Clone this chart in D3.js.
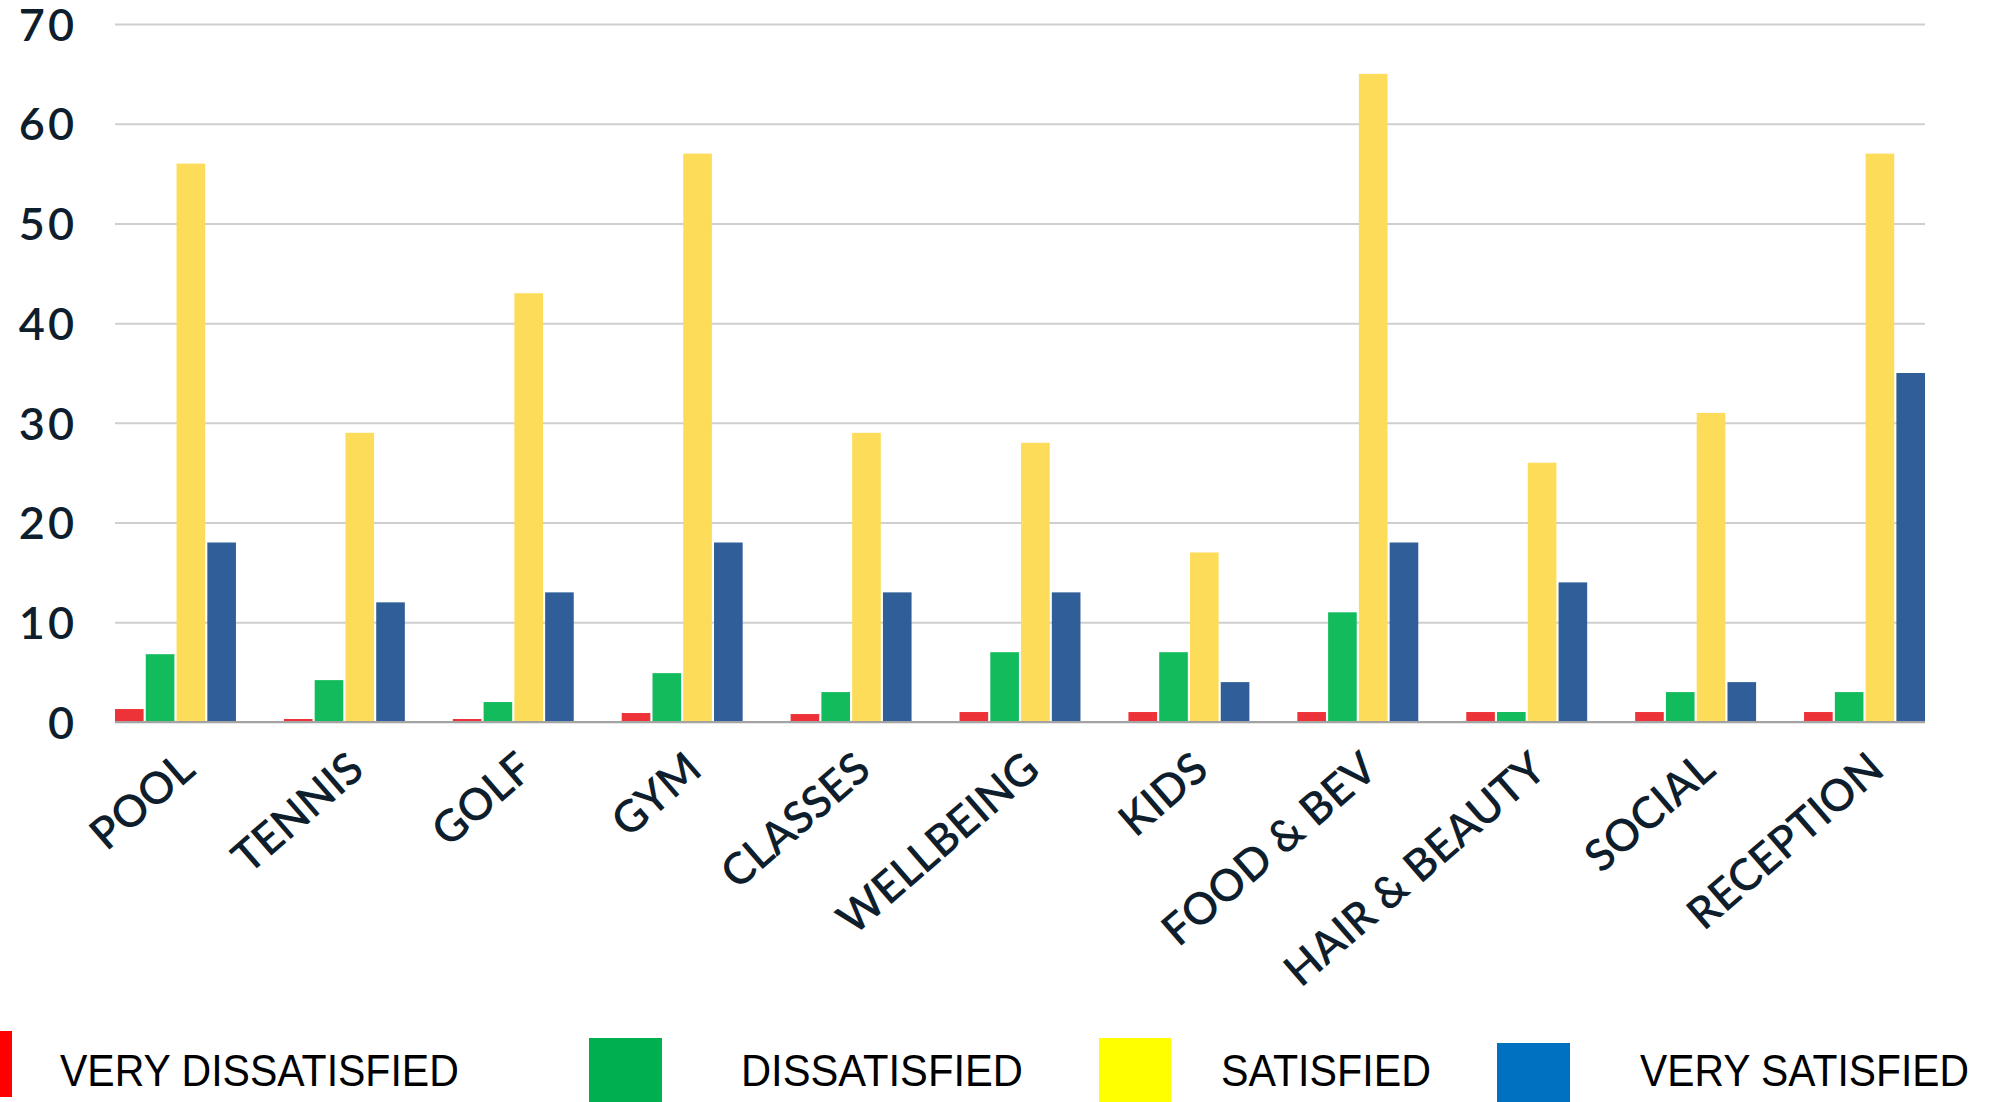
<!DOCTYPE html>
<html><head><meta charset="utf-8">
<script src="https://cdn.jsdelivr.net/npm/d3@7"></script>
<style>
html,body{margin:0;padding:0;background:#fff;overflow:hidden;}
svg{display:block;}
</style></head>
<body>
<svg id="chart" width="1990" height="1102"></svg>
<script>
const categories = ["POOL","TENNIS","GOLF","GYM","CLASSES","WELLBEING","KIDS","FOOD & BEV","HAIR & BEAUTY","SOCIAL","RECEPTION"];
const seriesNames = ["VERY DISSATISFIED","DISSATISFIED","SATISFIED","VERY SATISFIED"];
const veryDissatisfied = [1.3,0.3,0.3,0.9,0.8,1,1,1,1,1,1];
const dissatisfied     = [6.8,4.2,2,4.9,3,7,7,11,1,3,3];
const satisfied        = [56,29,43,57,29,28,17,65,26,31,57];
const verySatisfied    = [18,12,13,18,13,13,4,18,14,4,35];
const yTicks = [0,10,20,30,40,50,60,70];
const barColors = ["#ee3338","#12bb5c","#fcdc58","#2f5e99"];
const legendColors = ["#ff0000","#00b050","#ffff00","#0070c0"];

const seriesValues = [veryDissatisfied, dissatisfied, satisfied, verySatisfied];
const rows = categories.map((c,i)=>({cat:c, vals: seriesNames.map((s,k)=>({s, k, v: seriesValues[k][i]}))}));

const svg = d3.select("#chart");
const pLeft = 115, pRight = 1925, pTop = 24, pBottom = 722;

const x0 = d3.scaleBand().domain(categories).range([pLeft,pRight]).paddingInner(0.284).paddingOuter(0);
const x1 = d3.scaleBand().domain(seriesNames).range([0,x0.bandwidth()]).paddingInner(0.07).paddingOuter(0);
const y = d3.scaleLinear().domain([0,70]).range([pBottom,pTop]);

// grid + y labels
const yAxis = svg.append("g").attr("transform",`translate(${pLeft},0)`)
  .call(d3.axisLeft(y).tickValues(yTicks).tickSizeInner(-(pRight-pLeft)).tickSizeOuter(0).tickPadding(38).tickFormat(d3.format("d")));
yAxis.select(".domain").remove();
yAxis.selectAll(".tick line").attr("stroke","#cfcfcf").attr("stroke-width",2);
yAxis.selectAll(".tick text")
  .attr("fill","#0e1e2c").attr("font-family","Lato, 'Noto Sans', sans-serif")
  .attr("font-weight",600).attr("font-size",45).attr("letter-spacing",3).attr("dy","0.36em");

// bars
const g = svg.append("g");
g.selectAll("g.grp").data(rows).join("g").attr("class","grp")
  .attr("transform",d=>`translate(${x0(d.cat)},0)`)
  .selectAll("rect").data(d=>d.vals).join("rect")
  .attr("x",d=>x1(d.s)).attr("width",x1.bandwidth())
  .attr("y",d=>y(d.v)).attr("height",d=>y(0)-y(d.v))
  .attr("fill",d=>barColors[d.k]);

// zero line
svg.append("line").attr("x1",pLeft).attr("x2",pRight).attr("y1",y(0)).attr("y2",y(0))
  .attr("stroke","#a3a3a3").attr("stroke-width",2);

// x labels
const xAxis = svg.append("g").attr("transform",`translate(0,${pBottom})`)
  .call(d3.axisBottom(x0).tickSize(0).tickPadding(0));
xAxis.select(".domain").remove();
xAxis.selectAll(".tick text")
  .attr("fill","#0e1e2c").attr("font-family","Lato, 'Noto Sans', sans-serif")
  .attr("font-weight",600).attr("font-size",44)
  .attr("text-anchor","end").attr("y",0).attr("dy",0)
  .attr("transform","translate(22,51) rotate(-41)");

// legend
const legendX = [[0,12,60,399],[589,73,741,282],[1099,72,1221,210],[1497,73,1640,329]];
const legendY = [[1031,66],[1038,64],[1038,64],[1043,59]];
const lg = svg.append("g");
seriesNames.forEach((s,k)=>{
  lg.append("rect").attr("x",legendX[k][0]).attr("width",legendX[k][1])
    .attr("y",legendY[k][0]).attr("height",legendY[k][1]).attr("fill",legendColors[k]);
  const t = lg.append("text").attr("x",0).attr("y",0)
    .attr("font-family","'Liberation Sans', Arial, sans-serif").attr("font-size",44)
    .attr("fill","#000").text(s);
  const w = t.node().getComputedTextLength();
  t.attr("transform",`translate(${legendX[k][2]},1086) scale(${legendX[k][3]/w},1)`);
});
</script>
</body></html>
